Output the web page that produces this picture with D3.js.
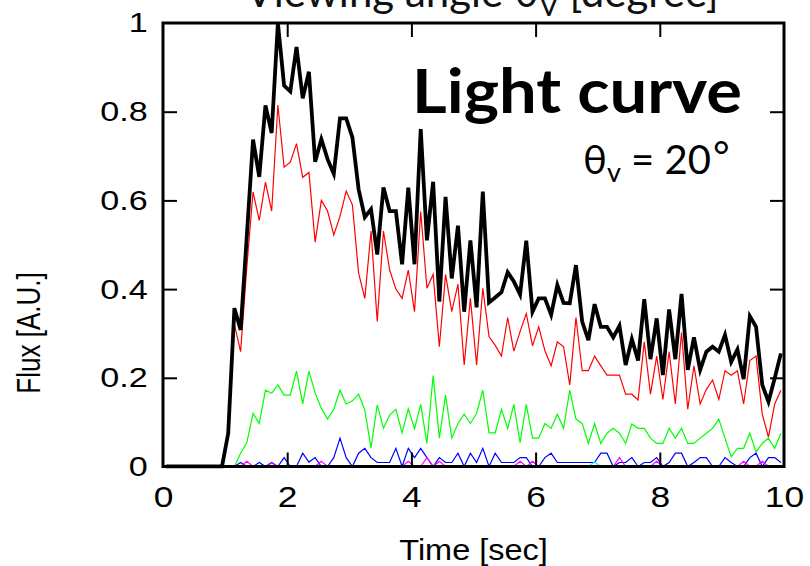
<!DOCTYPE html>
<html>
<head>
<meta charset="utf-8">
<script src="https://cdn.jsdelivr.net/npm/d3@7"></script>
<style>
  html, body { margin: 0; padding: 0; background: #fff; }
  svg { display: block; }
</style>
</head>
<body>
<svg id="chart" width="810" height="566"></svg>
<script>
// ---------------- data ----------------
const times = [0.05,0.15,0.25,0.35,0.45,0.55,0.65,0.75,0.85,0.95,
  1.05,1.15,1.25,1.35,1.45,1.55,1.65,1.75,1.85,1.95,
  2.05,2.15,2.25,2.35,2.45,2.55,2.65,2.75,2.85,2.95,
  3.05,3.15,3.25,3.35,3.45,3.55,3.65,3.75,3.85,3.95,
  4.05,4.15,4.25,4.35,4.45,4.55,4.65,4.75,4.85,4.95,
  5.05,5.15,5.25,5.35,5.45,5.55,5.65,5.75,5.85,5.95,
  6.05,6.15,6.25,6.35,6.45,6.55,6.65,6.75,6.85,6.95,
  7.05,7.15,7.25,7.35,7.45,7.55,7.65,7.75,7.85,7.95,
  8.05,8.15,8.25,8.35,8.45,8.55,8.65,8.75,8.85,8.95,
  9.05,9.15,9.25,9.35,9.45,9.55,9.65,9.75,9.85,9.95];

const totalFlux = [0,0,0,0,0,0,0,0,0,0,
  0.075,0.357,0.308,0.52,0.737,0.653,0.814,0.752,1.0,0.859,
  0.846,0.946,0.83,0.89,0.687,0.738,0.693,0.66,0.785,0.785,
  0.742,0.625,0.562,0.58,0.478,0.629,0.576,0.576,0.456,0.629,
  0.456,0.761,0.51,0.642,0.372,0.608,0.424,0.543,0.349,0.51,
  0.359,0.62,0.37,0.381,0.393,0.438,0.417,0.388,0.509,0.349,
  0.379,0.379,0.342,0.409,0.369,0.368,0.454,0.327,0.285,0.366,
  0.315,0.315,0.291,0.317,0.229,0.287,0.239,0.377,0.242,0.334,
  0.206,0.354,0.242,0.389,0.218,0.291,0.218,0.259,0.27,0.259,
  0.297,0.236,0.264,0.197,0.339,0.315,0.184,0.146,0.199,0.255];

const redFlux = [0,0,0,0,0,0,0,0,0,0,
  0.07,0.32,0.259,0.45,0.619,0.555,0.641,0.576,0.815,0.675,
  0.686,0.728,0.652,0.663,0.506,0.6,0.576,0.522,0.564,0.621,
  0.59,0.436,0.379,0.531,0.327,0.531,0.443,0.4,0.379,0.443,
  0.349,0.575,0.402,0.433,0.27,0.433,0.349,0.411,0.229,0.379,
  0.229,0.402,0.293,0.273,0.249,0.336,0.26,0.304,0.345,0.272,
  0.315,0.261,0.227,0.281,0.27,0.184,0.336,0.216,0.216,0.249,
  0.227,0.206,0.206,0.206,0.163,0.163,0.15,0.281,0.163,0.249,
  0.151,0.259,0.141,0.302,0.129,0.227,0.141,0.174,0.195,0.151,
  0.216,0.206,0.216,0.141,0.239,0.249,0.118,0.066,0.141,0.172];

const greenFlux = [0,0,0,0,0,0,0,0,0,0,
  0,0,0.03,0.054,0.12,0.097,0.172,0.165,0.184,0.161,
  0.161,0.215,0.141,0.215,0.166,0.131,0.107,0.129,0.172,0.141,
  0.148,0.163,0.127,0.042,0.139,0.086,0.116,0.129,0.076,0.13,
  0.085,0.14,0.052,0.205,0.064,0.161,0.064,0.097,0.118,0.097,
  0.12,0.172,0.076,0.076,0.129,0.086,0.14,0.054,0.14,0.064,
  0.064,0.097,0.086,0.118,0.086,0.172,0.107,0.097,0.052,0.097,
  0.052,0.075,0.086,0.075,0.052,0.096,0.086,0.086,0.064,0.052,
  0.052,0.086,0.064,0.086,0.052,0.052,0.064,0.075,0.086,0.107,
  0.064,0.022,0.041,0.041,0.075,0.033,0.052,0.064,0.041,0.075];

const blueFlux = [0,0,0,0,0,0,0,0,0,0,
  0,0,0.009,0,0,0.009,0,0.009,0,0.02,
  0,0,0.03,0.01,0.02,0,0,0.02,0.064,0.02,
  0,0.03,0.041,0.02,0.009,0.009,0.009,0.041,0,0.041,
  0.02,0.041,0.02,0,0.02,0.009,0.009,0.03,0,0.03,
  0.009,0.041,0,0.03,0.009,0.009,0.009,0.02,0.02,0,
  0,0.02,0.03,0.009,0.009,0.009,0.009,0.009,0.009,0.009,
  0.03,0.03,0,0.009,0.009,0.02,0,0.009,0.009,0.02,
  0,0.009,0.03,0.03,0,0.009,0.02,0.02,0,0,
  0.02,0.009,0,0,0.02,0.03,0,0.02,0.02,0.009];

const magentaFlux = [0,0,0,0,0,0,0,0,0,0,
  0,0,0,0.012,0,0,0,0.008,0,0,
  0,0,0,0,0,0.012,0,0,0,0,
  0,0,0,0,0,0,0,0,0,0.012,
  0,0,0.02,0,0.012,0,0,0,0,0,
  0,0,0,0,0,0,0,0.012,0,0.012,
  0,0,0,0,0,0,0,0,0,0,
  0,0,0,0.02,0,0,0,0,0,0.012,
  0,0,0,0,0,0,0,0,0,0,
  0,0,0,0.012,0,0,0.012,0,0,0];

const cyanFlux = [0,0,0,0,0,0,0,0,0,0,
  0,0,0,0,0,0,0,0,0,0,
  0,0,0,0,0,0,0,0,0,0,
  0,0,0,0,0,0,0,0,0,0,
  0,0,0,0,0,0,0,0,0,0,
  0,0,0,0,0,0,0,0,0,0,
  0,0,0,0,0,0,0,0,0,0.01,
  0,0,0,0,0,0,0,0,0,0,
  0,0,0,0,0,0,0,0,0,0,
  0,0,0,0,0,0,0,0,0,0];

const xTicks = [0, 2, 4, 6, 8, 10];
const xTickLabels = ["0", "2", "4", "6", "8", "10"];
const yTicks = [0, 0.2, 0.4, 0.6, 0.8, 1];
const yTickLabels = ["0", "0.2", "0.4", "0.6", "0.8", "1"];

// ---------------- layout ----------------
const L = 163, R = 784, T = 23, B = 466.5;
const svg = d3.select("#chart");
const x = d3.scaleLinear().domain([0, 10]).range([L, R]);
const y = d3.scaleLinear().domain([0, 1]).range([B, T]);

const series = [
  { values: redFlux, color: "#ff0000", width: 1.2 },
  { values: greenFlux, color: "#00ff00", width: 1.2 },
  { values: blueFlux, color: "#0000ff", width: 1.2 },
  { values: magentaFlux, color: "#ff00ff", width: 1.2 },
  { values: cyanFlux, color: "#00ffff", width: 1.2 },
  { values: totalFlux, color: "#000000", width: 3.8 }
];

svg.append("defs").append("clipPath").attr("id", "plotclip")
  .append("rect").attr("x", L).attr("y", T - 2).attr("width", R - L).attr("height", B - T + 4);

const line = d3.line().x((d, i) => x(times[i])).y(d => y(d));
const g = svg.append("g").attr("clip-path", "url(#plotclip)");
series.forEach(s => {
  g.append("path").datum(s.values)
    .attr("d", line)
    .attr("fill", "none")
    .attr("stroke", s.color)
    .attr("stroke-width", s.width)
    .attr("stroke-linejoin", "miter");
});

// ---------------- axes ----------------
const tickFont = "'Liberation Sans', Arial, Helvetica, sans-serif";
const stretch = 1.22;
const bottomAxis = svg.append("g").attr("transform", `translate(0,${B})`)
  .call(d3.axisBottom(x).tickValues(xTicks).tickFormat((d, i) => xTickLabels[i])
    .tickSizeInner(-14).tickSizeOuter(0).tickPadding(20));
const leftAxis = svg.append("g").attr("transform", `translate(${L},0)`)
  .call(d3.axisLeft(y).tickValues(yTicks).tickFormat((d, i) => yTickLabels[i])
    .tickSizeInner(-14).tickSizeOuter(0).tickPadding(12.5));
const topAxis = svg.append("g").attr("transform", `translate(0,${T})`)
  .call(d3.axisTop(x).tickValues([2, 4, 6, 8]).tickFormat("")
    .tickSizeInner(-14).tickSizeOuter(0));
const rightAxis = svg.append("g").attr("transform", `translate(${R},0)`)
  .call(d3.axisRight(y).tickValues([0.2, 0.4, 0.6, 0.8]).tickFormat("")
    .tickSizeInner(-14).tickSizeOuter(0));

[bottomAxis, leftAxis, topAxis, rightAxis].forEach(a => {
  a.select(".domain").remove();
  a.selectAll(".tick line").attr("stroke", "#000").attr("stroke-width", 2);
  a.selectAll(".tick text").attr("fill", "#000")
    .attr("transform", `scale(${stretch},1)`)
    .style("font-family", tickFont).style("font-size", "28px");
});
bottomAxis.selectAll(".tick text").style("font-size", "29px");
leftAxis.selectAll(".tick line").filter(d => d === 0 || d === 1).remove();
bottomAxis.selectAll(".tick line").filter(d => d === 0 || d === 10).remove();

// frame
svg.append("rect").attr("x", L).attr("y", T).attr("width", R - L).attr("height", B - T)
  .attr("fill", "none").attr("stroke", "#000").attr("stroke-width", 3);

// axis titles
svg.append("text")
  .attr("transform", `translate(${(L + R) / 2},560) scale(1.12,1)`)
  .attr("text-anchor", "middle")
  .style("font-family", tickFont).style("font-size", "29px").attr("fill", "#000")
  .text("Time [sec]");

svg.append("text").attr("transform", "translate(40,333) rotate(-90) scale(1,1.25)")
  .attr("text-anchor", "middle")
  .style("font-family", tickFont).style("font-size", "26px").attr("fill", "#000")
  .text("Flux [A.U.]");

// top (cut-off) axis title
const topTitle = svg.append("text").attr("x", 482).attr("y", 7)
  .attr("text-anchor", "middle")
  .style("font-family", "Lato, 'Open Sans', sans-serif").style("font-size", "42px").attr("fill", "#111");
topTitle.append("tspan").text("Viewing angle θ");
topTitle.append("tspan").attr("dy", 9).style("font-size", "29px").text("V");
topTitle.append("tspan").attr("dy", -9).text(" [degree]");

// annotations
svg.append("text").attr("x", 412).attr("y", 113)
  .attr("textLength", 330).attr("lengthAdjust", "spacingAndGlyphs")
  .style("font-family", "Lato, 'Open Sans', sans-serif").style("font-weight", "bold")
  .style("font-size", "62px").attr("fill", "#000")
  .text("Light curve");

const ann = svg.append("text").attr("x", 583).attr("y", 174)
  .attr("text-anchor", "start")
  .style("font-family", "Lato, 'Open Sans', sans-serif").style("font-size", "40px").attr("fill", "#000");
ann.append("tspan").text("θ");
ann.append("tspan").attr("dy", 8).style("font-size", "27px").text("v");
ann.append("tspan").attr("dy", -8).text(" = 20");
ann.append("tspan").attr("dy", -4).attr("dx", 2).text("°");
</script>
</body>
</html>
